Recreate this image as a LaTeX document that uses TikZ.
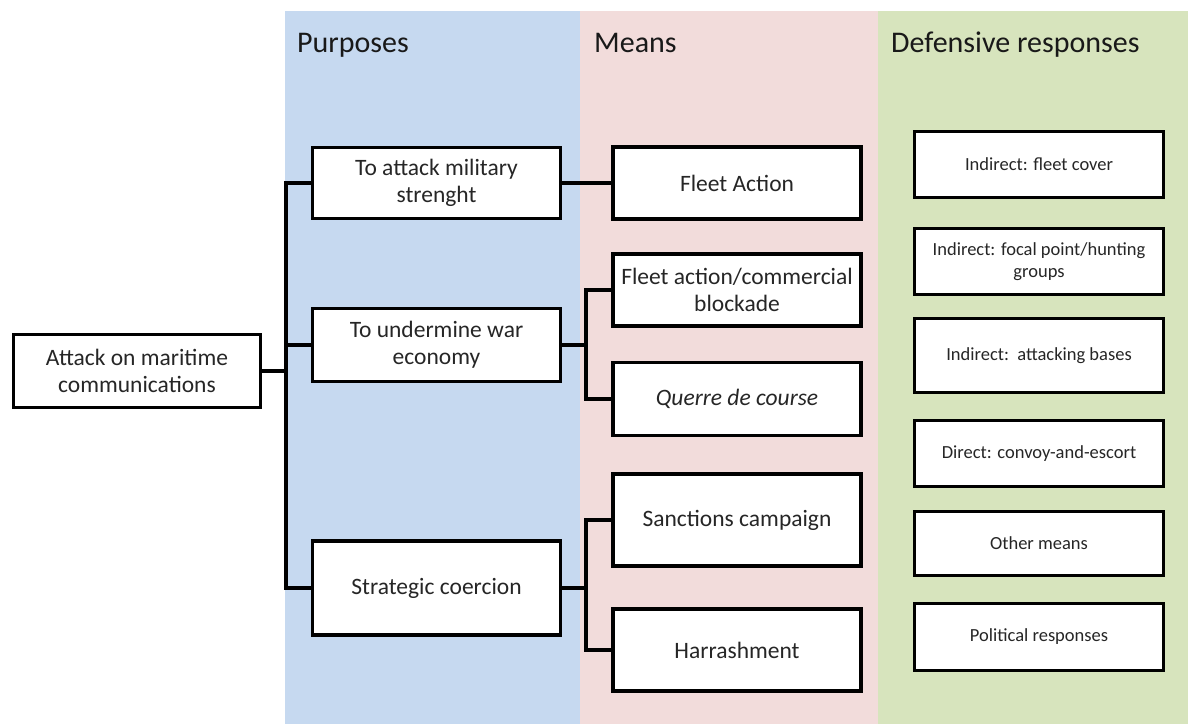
\documentclass[tikz,border=0pt]{standalone}
\usepackage{fontspec}
\setmainfont{Carlito}
\definecolor{bb}{rgb}{0.776, 0.851, 0.941}
\definecolor{pb}{rgb}{0.949, 0.863, 0.859}
\definecolor{gb}{rgb}{0.843, 0.894, 0.741}
\definecolor{tx}{rgb}{0.15, 0.15, 0.15}
\tikzset{
  box/.style={draw,fill=white,line width=3.2pt,align=center,inner sep=2pt,
    text=tx,font=\fontsize{23.5}{27}\selectfont},
  pbox/.style={box,minimum width=248pt},
  mbox/.style={box,minimum width=248pt},
  dbox/.style={box,minimum width=249pt,font=\fontsize{18.5}{22}\selectfont},
  link/.style={line width=3.2pt},
  head/.style={anchor=base west,inner sep=0pt,text=black!90,
    font=\fontsize{30}{34}\selectfont}
}

\begin{document}
\begin{tikzpicture}[x=1pt,y=-1pt]%
  \useasboundingbox (0,0) rectangle (1190,724);
  % column bands
  \fill [bb] (285,11) rectangle (580,724);
  \fill [pb] (580,11) rectangle (878,724);
  \fill [gb] (878,11) rectangle (1188,724);
  \node [head] (hpur) at (297,52) {Purposes};
  \node [head] (hmea) at (594,52) {Means};
  \node [head] (hdef) at (891,52) {Defensive responses};
  % root
  \node [box,minimum width=247pt,minimum height=73pt] (root) at (137,371)
    {Attack on maritime\\communications};
  % purposes
  \node [pbox,minimum height=71pt] (p1) at (436.5,183) {To attack military\\strenght};
  \node [pbox,minimum height=73pt] (p2) at (436.5,345) {To undermine war\\economy};
  \node [pbox,minimum height=94pt] (p3) at (436.5,588) {Strategic coercion};
  % means
  \node [mbox,minimum height=72pt] (m1) at (737,183) {Fleet Action};
  \node [mbox,minimum height=72pt] (m2) at (737,290) {Fleet action/commercial\\blockade};
  \node [mbox,minimum height=73pt] (m3) at (737,399) {\textit{Querre de course}};
  \node [mbox,minimum height=92pt] (m4) at (737,520) {Sanctions campaign};
  \node [mbox,minimum height=82pt] (m5) at (737,650) {Harrashment};
  % defensive responses
  \node [dbox,minimum height=66pt] (d1) at (1039,164.5) {Indirect: fleet cover};
  \node [dbox,minimum height=66pt] (d2) at (1039,261.5) {Indirect: focal point/hunting\\groups};
  \node [dbox,minimum height=74pt] (d3) at (1039,355.5) {Indirect:\ \ attacking bases};
  \node [dbox,minimum height=66pt] (d4) at (1039,453.5) {Direct: convoy-and-escort};
  \node [dbox,minimum height=64pt] (d5) at (1039,543.5) {Other means};
  \node [dbox,minimum height=67pt] (d6) at (1039,637) {Political responses};
  % connectors
  \coordinate (tr) at (286,0);
  \coordinate (br) at (586,0);
  \draw [link] (root.east) -- (root.east -| tr);
  \draw [link] (p1.west) -- (p1.west -| tr) -- (p3.west -| tr) -- (p3.west);
  \draw [link] (p2.west) -- (p2.west -| tr);
  \draw [link] (p1.east) -- (m1.west);
  \draw [link] (p2.east) -- (p2.east -| br);
  \draw [link] (m2.west) -- (m2.west -| br) -- (m3.west -| br) -- (m3.west);
  \draw [link] (p3.east) -- (p3.east -| br);
  \draw [link] (m4.west) -- (m4.west -| br) -- (m5.west -| br) -- (m5.west);
\end{tikzpicture}
\end{document}
